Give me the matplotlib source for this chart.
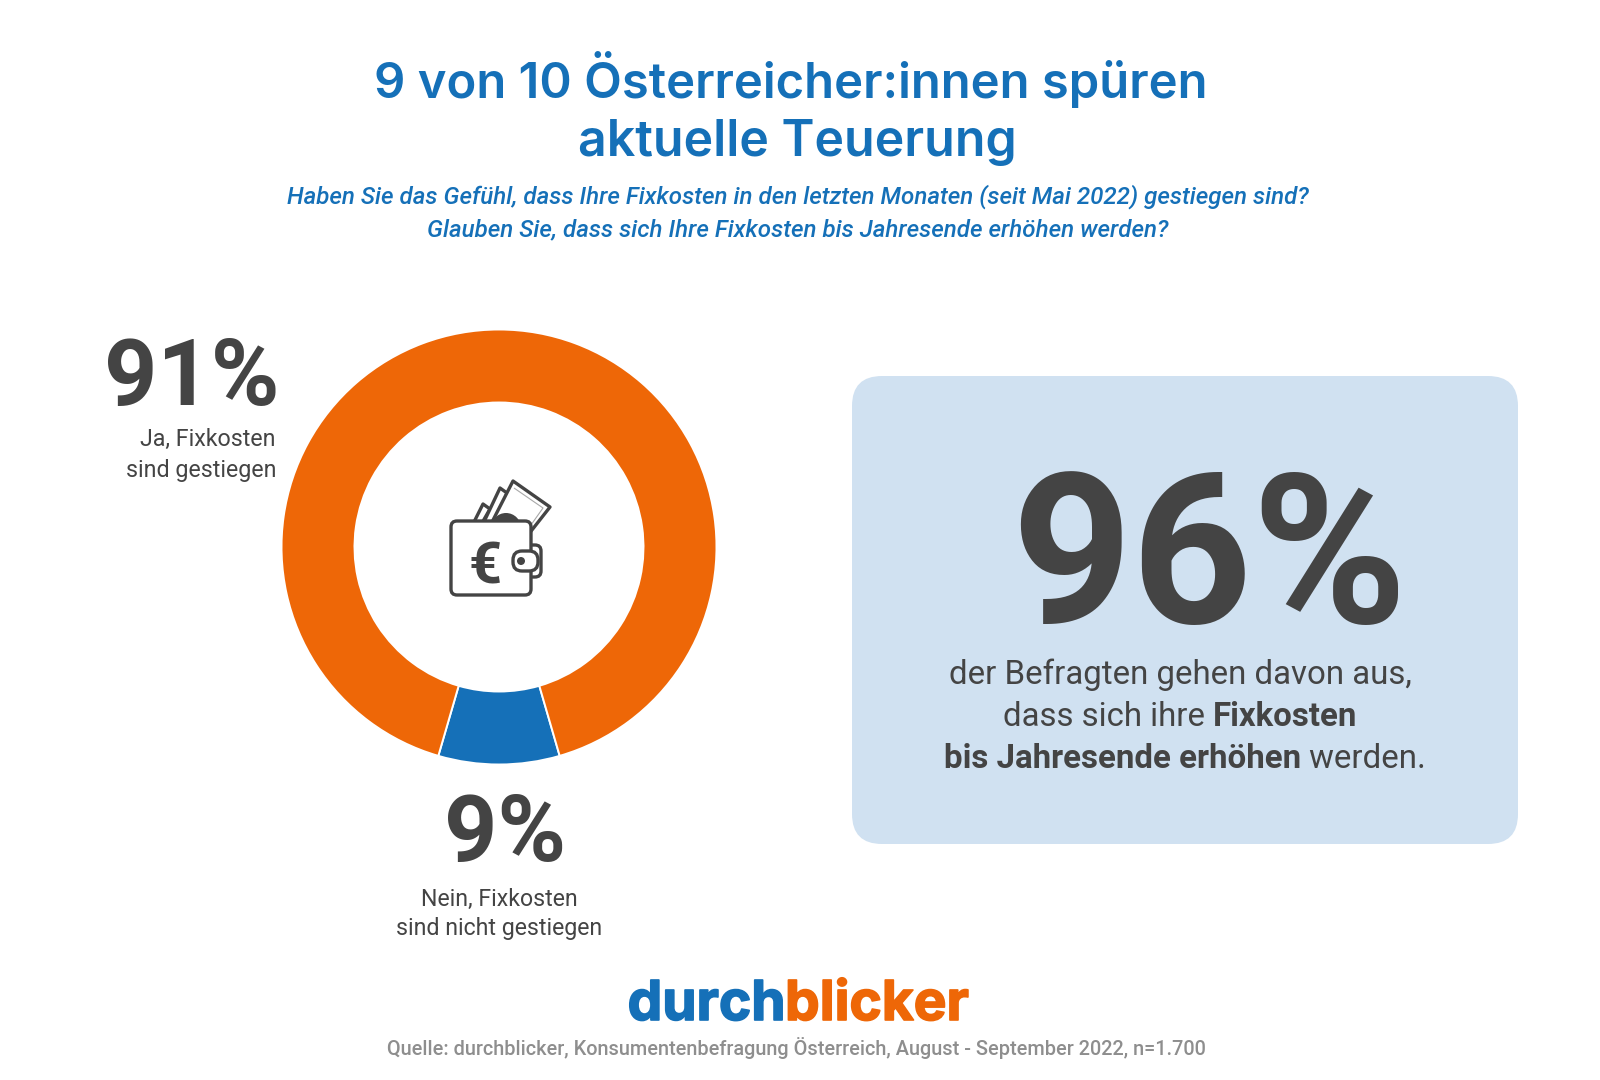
#!/usr/bin/env python3
"""Donut + callout infographic: Fixkosten survey, durchblicker."""
import matplotlib; matplotlib.use("Agg")
import matplotlib.pyplot as plt
import matplotlib.patheffects as pe
from matplotlib.patches import FancyBboxPatch, Polygon, Circle, Wedge

BLUE, ORANGE, DARK, GREY, PALE = "#1570b8", "#ee6707", "#444444", "#8e8e8e", "#d0e1f1"

title_lines = ["9 von 10 Österreicher:innen spüren", "aktuelle Teuerung"]
question_lines = ["Haben Sie das Gefühl, dass Ihre Fixkosten in den letzten Monaten (seit Mai 2022) gestiegen sind?",
                  "Glauben Sie, dass sich Ihre Fixkosten bis Jahresende erhöhen werden?"]
answers = ["Nein", "Ja"]
shares = [9, 91]
slice_colors = [BLUE, ORANGE]
expected_share = 96
source = "Quelle: durchblicker, Konsumentenbefragung Österreich, August - September 2022, n=1.700"

W, H = 1600, 1080
plt.rcParams["font.family"] = ["Roboto", "DejaVu Sans"]
fig = plt.figure(figsize=(W / 100, H / 100), dpi=100)
ax = fig.add_axes([0, 0, 1, 1]); ax.set_xlim(0, W); ax.set_ylim(H, 0); ax.axis("off")

def txt(x, y, s, px, c=DARK, ha="center", va="center", **kw):
    return ax.text(x, y, s, fontsize=px * 0.72, color=c, ha=ha, va=va, **kw)

def mixed_line(xc, y, parts, px):
    # centre a line made of regular and bold runs
    r = fig.canvas.get_renderer()
    items = [txt(0, y, s, px, ha="left", va="center_baseline", fontweight=w) for s, w in parts]
    widths = [t.get_window_extent(r).width for t in items]
    x = xc - sum(widths) / 2
    for t, w in zip(items, widths):
        t.set_x(x); x += w

# headline
txt(791, 80, title_lines[0], 49, BLUE, family="Inter", fontweight=600)
txt(797, 142, title_lines[1], 50, BLUE, family="Inter", fontweight=600)
for y, s in zip([197, 230], question_lines):
    txt(798, y, s, 24.1, BLUE, style="italic", fontweight=500)

# donut
cx, cy, r_out, r_in = 499, 547, 217.5, 144.5
pie_ax = fig.add_axes([(cx - r_out) / W, 1 - (cy + r_out) / H, 2 * r_out / W, 2 * r_out / H])
half = shares[0] / sum(shares) * 360 / 2
pie_ax.pie(shares, colors=slice_colors, startangle=270 - half, radius=1,
           wedgeprops=dict(width=1 - r_in / r_out, edgecolor="white", linewidth=1.4))
pie_ax.set_xlim(-1, 1); pie_ax.set_ylim(-1, 1)

# value labels
txt(279, 405, f"{shares[1]}%", 93, ha="right", va="baseline", fontweight="bold")
txt(276, 439, "Ja, Fixkosten", 23.3, ha="right")
txt(276, 470, "sind gestiegen", 23.3, ha="right")
txt(505, 861, f"{shares[0]}%", 93, va="baseline", fontweight="bold")
txt(499, 899, "Nein, Fixkosten", 23.1)
txt(499, 929, "sind nicht gestiegen", 23.1)

# callout box
ax.add_patch(FancyBboxPatch((852 + 30, 376 + 30), 666 - 60, 468 - 60,
             boxstyle="round,pad=30,rounding_size=30", fc=PALE, ec="none"))
txt(1209, 623, f"{expected_share}%", 210, va="baseline", fontweight="bold")
mixed_line(1180, 671, [("der Befragten gehen davon aus,", "normal")], 33)
mixed_line(1180, 713, [("dass sich ihre ", "normal"), ("Fixkosten", "bold")], 33)
mixed_line(1185, 755, [("bis Jahresende erhöhen", "bold"), (" werden.", "normal")], 33)

# wallet icon, pixel coordinates
lw = 2.4
def poly(pts, fc="white", ec=DARK, z=5, lw=lw, closed=True):
    ax.add_patch(Polygon(pts, closed=closed, fc=fc, ec=ec, lw=lw, zorder=z, joinstyle="round"))
poly([(472, 526), (483, 504), (490, 509), (478, 530)], z=5)
poly([(482, 526), (500, 488), (507, 493), (494, 530)], z=5)
poly([(490, 526), (513, 481), (550, 507), (528, 535)], z=6)
poly([(514, 488), (543, 508), (526, 532)], fc="none", ec="#a8a8a8", z=6, lw=0.8, closed=False)
ax.add_patch(Wedge((506, 528), 15, 180, 360, fc=DARK, ec="none", zorder=7))
ax.add_patch(FancyBboxPatch((530, 549), 7, 24, boxstyle="round,pad=4,rounding_size=6",
             fc="white", ec=DARK, lw=lw, zorder=7))
ax.add_patch(FancyBboxPatch((456, 526), 70, 64, boxstyle="round,pad=5,rounding_size=6",
             fc="white", ec=DARK, lw=lw, zorder=8))
ax.add_patch(FancyBboxPatch((518, 556), 15, 10, boxstyle="round,pad=5,rounding_size=9",
             fc="white", ec=DARK, lw=lw, zorder=9))
ax.add_patch(Circle((521, 561), 4, fc=DARK, ec="none", zorder=10))
txt(485, 562, "€", 58, fontweight="bold", zorder=10, va="center_baseline")

# logo and source
t1 = txt(785, 1020, "durch", 55, BLUE, ha="right", va="baseline", family="Inter", fontweight="bold",
         path_effects=[pe.withStroke(linewidth=1.2, foreground=BLUE)])
t2 = txt(785, 1020, "blicker", 55, ORANGE, ha="left", va="baseline", family="Inter", fontweight="bold",
         path_effects=[pe.withStroke(linewidth=1.2, foreground=ORANGE)])
txt(796, 1048, source, 19.85, GREY, fontweight=500)

fig.savefig("out.png", dpi=100)
